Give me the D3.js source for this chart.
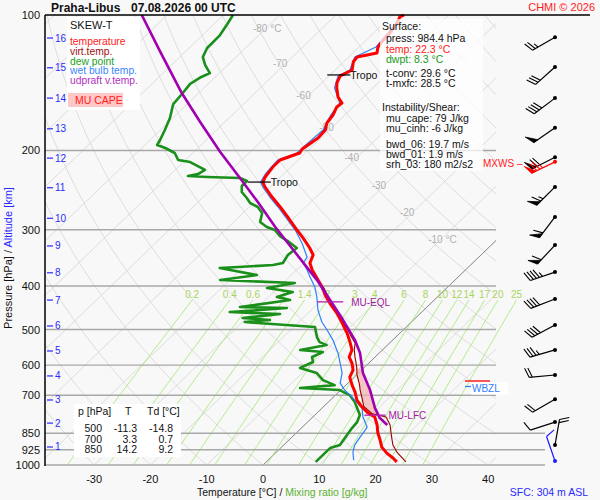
<!DOCTYPE html>
<html>
<head>
<meta charset="utf-8">
<script src="https://cdn.jsdelivr.net/npm/d3@7"></script>
<style>
  body { margin: 0; background: #f8f8f8; }
  svg { display: block; font-family: "Liberation Sans", Arial, sans-serif; }
</style>
</head>
<body>
<svg id="chart" width="600" height="500"></svg>
<script>
// ---- sounding: [pressure hPa, temperature °C] ----
const tempProfile = [[100,-57.9],[101,-58.3],[104,-57.7],[110,-57.1],[115,-56.9],[118,-56.6],[121.5,-55.7],[124,-58.5],[127,-58.3],[132.5,-57.0],[136.6,-58.0],[141.6,-57.3],[145.3,-56.4],[152.2,-54.5],[156.9,-52.7],[160.1,-52.9],[166.8,-52.1],[173.8,-51.7],[180.1,-50.7],[187.7,-50.5],[194.5,-51.0],[198.5,-51.3],[202.6,-51.0],[210,-53.2],[217.7,-53.2],[224.5,-52.9],[229.1,-52.7],[235.1,-52.2],[241.1,-50.9],[253.8,-47.8],[267.1,-44.5],[281.2,-41.3],[300.5,-37.3],[313.1,-34.7],[329.5,-31.7],[341.5,-29.8],[355.8,-28.9],[368.8,-27.2],[384.2,-24.9],[402.3,-22.3],[419.1,-20.3],[436.6,-18.0],[459.6,-14.9],[483.7,-12.1],[509,-9.4],[533.3,-7.2],[555.2,-5.4],[575.5,-4.6],[593.5,-3.0],[615.3,-1.5],[637.8,-0.8],[664.5,1.1],[688.5,2.9],[717.1,4.7],[743.4,6.9],[766.7,9.1],[782.2,11.0],[815,12.9],[849,14.5],[880.2,16.2],[912.5,17.8],[941.2,19.8],[965,21.8],[984.4,23.2]];

const virtTempProfile = [[402,-22.1],[437,-17.7],[460,-14.6],[484,-11.8],[501,-9.8],[522,-7.6],[536,-6.1],[555,-5.0],[575,-3.6],[606,-1.4],[631,0.1],[664,2.4],[681,3.4],[706,5.0],[741,7.1],[768,9.8],[782,13.0],[815,15.2],[867,17.7],[903,19.4],[936,21.4],[984,24.8]];

const dewProfile = [[100,-88.3],[104.2,-87.7],[110.8,-86.9],[118.4,-86.8],[124,-85.9],[129.2,-84.0],[134.6,-81.7],[137.3,-82.5],[142.3,-83.2],[149.8,-82.8],[157.7,-82.5],[169.4,-80.5],[180.1,-79.2],[189.6,-78.2],[194.5,-77.8],[197.5,-75.8],[202.6,-73.2],[210,-71.3],[212.2,-68.8],[216.6,-66.7],[221,-64.7],[225.6,-65.2],[228,-66.6],[229.1,-63.0],[230.3,-57.0],[233.9,-55.2],[239.9,-55.2],[247.4,-54.1],[255.1,-52.1],[261.7,-50.6],[267.1,-48.5],[275.5,-46.6],[288.5,-45.3],[295.9,-43.2],[300.5,-41.2],[309.9,-39.2],[317.9,-36.9],[329.5,-34.0],[341.5,-34.3],[355.8,-33.7],[359.4,-35.1],[365,-44.0],[378.4,-36.1],[388.2,-41.7],[394.1,-27.9],[404.4,-31.9],[412.7,-26.6],[423.4,-28.5],[430,-25.6],[445.7,-33.2],[448,-24.7],[457.2,-34.1],[461.9,-24.8],[471.5,-30.7],[476.3,-25.5],[481.2,-29.6],[493.7,-16.2],[519.7,-14.0],[533.3,-12.6],[541.4,-10.8],[555.2,-14.6],[561.1,-10.2],[575.5,-11.2],[590.5,-10.1],[608.9,-11.3],[624.7,-7.4],[647.6,-5.0],[664.5,-2.0],[674.6,-7.6],[681.5,-0.2],[699.2,2.5],[724.7,4.7],[774.6,8.0],[802.8,8.8],[827.8,9.0],[858,9.4],[903.1,10.0],[917.1,8.8],[941.2,8.8],[984.4,8.8]];

const wetBulbProfile = [[100,-58.3],[109.6,-57.5],[117.8,-57.0],[124,-58.9],[132.5,-57.4],[136.6,-58.4],[145.3,-56.8],[156.9,-53.1],[166.8,-52.5],[180.1,-51.1],[194.5,-51.4],[202.6,-51.5],[210,-53.6],[224.5,-53.3],[235.1,-52.6],[241.1,-51.3],[253.8,-48.2],[267.1,-44.9],[281.2,-41.7],[300.5,-37.6],[321.2,-34.0],[345.1,-30.5],[355.8,-30.1],[368.8,-28.1],[382.2,-26.3],[402.3,-23.6],[423.4,-21.4],[452.6,-18.8],[481.2,-15.9],[501.3,-13.5],[527.7,-10.6],[555.2,-8.1],[564,-7.3],[593.5,-5.1],[624.7,-2.9],[657.6,-1.4],[681.5,0.7],[706.4,3.3],[728.4,5.4],[747.3,7.1],[782.2,8.9],[823.6,11.5],[836.3,11.7],[866.9,12.1],[903.1,12.6],[936.1,13.6],[975.2,15.2]];

const parcelProfile = [[100,-104.5],[120.8,-94.4],[149.1,-83.0],[172.9,-74.4],[201.6,-65.3],[230.3,-57.0],[260.4,-49.4],[295.9,-41.7],[336.3,-33.6],[388.2,-24.5],[430,-18.5],[476.3,-12.5],[527.7,-6.7],[564,-3.4],[624.7,0.8],[681.5,5.2],[747.3,9.4],[786.5,12.1],[815,14.7]];

const tropoP = [135.9, 235.1];
const eqlP = 434, lfcP = 775;
const capeTop = 610, capeBottom = 775;

// ---- axes ----
const pressureTicks = [100,200,300,400,500,600,700,850,925,1000];
const tempTicks = [-30,-20,-10,0,10,20,30,40];
const mixRatios = [0.2,0.4,0.6,1,1.4,2,3,4,6,8,10,12,14,17,20,25];
const isoLabelT = [-80,-70,-60,-50,-40,-30,-20,-10];
const isoLabelP = [107,128,150.6,177.4,206.8,238.7,274.1,314.7];
const altKm = [1,2,3,4,5,6,7,8,9,10,11,12,13,14,15,16];
const altP = [912,807,717,634,558,491,430,374,326,283,242,208,179,153,131,112.5];

// ---- winds ----
const windP = [112,130.5,153,178,207,241,281,324.5,372.6,427.8,488.7,555,631,714,803,903];
const windDir = [240,228,233,235,243,225,217,223,251,249,242,254,265,240,252,10];
const windSpd = [25,30,40,50,70,65,60,60,45,40,40,35,20,20,10,20];
const sfcWind = [980,341,10];
const maxWind = [212,244,75];

// ---- texts ----
const legendItems = [['temperature','#ff2020'],['virt.temp.','#a01010'],['dew point','#20a020'],['wet bulb temp.','#3a86ff'],['udpraft v.temp.','#b030c0']];
const infoText = [['Surface:','#111',0],['press: 984.4 hPa','#111',1],['temp: 22.3 °C','#ff2020',1],['dwpt: 8.3 °C','#1a9a1a',1],['t-conv: 29.6 °C','#111',1],['t-mxfc: 28.5 °C','#111',1],['Instability/Shear:','#111',0],['mu_cape: 79 J/kg','#111',1],['mu_cinh: -6 J/kg','#111',1],['bwd_06: 19.7 m/s','#111',1],['bwd_01: 1.9 m/s','#111',1],['srh_03: 180 m2/s2','#111',1]];
const tableP = ['500','700','850'];
const tableT = ['-11.3','3.3','14.2'];
const tableTd = ['-14.8','0.7','9.2'];

// ================= drawing =================
const svg = d3.select('#chart');
const plot = {left: 45, right: 496, top: 15, bottom: 465};
const skew = 1.038;
const yScale = d3.scaleLog().domain([100, 1000]).range([plot.top, plot.bottom]);
const tScale = d3.scaleLinear().domain([-30, 40]).range([94.1, 488.2]);
const xOf = (t, p) => tScale(t) + (plot.bottom - yScale(p)) * skew;
const line = d3.line().x(d => xOf(d[1], d[0])).y(d => yScale(d[0]));

svg.append('rect').attr('width', 600).attr('height', 500).attr('fill', '#f8f8f8');

const defs = svg.append('defs');
defs.append('clipPath').attr('id', 'plotClip')
  .append('rect').attr('x', plot.left).attr('y', plot.top)
  .attr('width', plot.right - plot.left).attr('height', plot.bottom - plot.top);

const grid = svg.append('g').attr('clip-path', 'url(#plotClip)');
const levels = d3.range(100, 1001, 10);

// isotherms
d3.range(-130, 50, 10).forEach(t => {
  grid.append('path').attr('d', line([[100, t], [1000, t]]))
    .attr('fill', 'none').attr('stroke', '#d6d6d6').attr('stroke-width', 0.8);
});
// dry adiabats
d3.range(-50, 190, 10).forEach(th => {
  const pts = levels.map(p => [p, (th + 273.15) * Math.pow(p / 1000, 0.2857) - 273.15]);
  grid.append('path').attr('d', line(pts))
    .attr('fill', 'none').attr('stroke', '#d6d6d6').attr('stroke-width', 0.8);
});

// mixing ratio lines
const dewFromMix = (w, p) => { const l = Math.log(w * p / (622 + w) / 6.112); return 243.5 * l / (17.67 - l); };
mixRatios.forEach(w => {
  const pts = d3.range(430, 1001, 10).map(p => [p, dewFromMix(w, p)]);
  svg.append('path').attr('d', line(pts))
    .attr('fill', 'none').attr('stroke', '#9ee870').attr('stroke-width', 0.8);
  svg.append('text').attr('x', xOf(dewFromMix(w, 430), 430)).attr('y', yScale(430) - 2)
    .attr('text-anchor', 'middle').attr('font-size', 10).attr('fill', '#a8d45c').text(w);
});

// pressure lines
pressureTicks.slice(1).forEach(p => {
  svg.append('line').attr('x1', plot.left).attr('x2', p >= 850 ? 545 : plot.right)
    .attr('y1', yScale(p)).attr('y2', yScale(p))
    .attr('stroke', '#a8a8a8').attr('stroke-width', 1.4);
});
// freezing isotherm
grid.append('path').attr('d', line([[100, 0], [1000, 0]]))
  .attr('fill', 'none').attr('stroke', '#666').attr('stroke-width', 0.7);

// isotherm labels
isoLabelT.forEach((t, i) => {
  const p = isoLabelP[i];
  svg.append('text').attr('x', xOf(t, p) - 13).attr('y', yScale(p) + 4)
    .attr('font-size', 10).attr('fill', '#b0b0b0')
    .text(t === -80 || t === -10 ? t + ' °C' : t);
});

// CAPE area between parcel and virtual temperature
const interp = (prof, p) => {
  for (let i = 0; i < prof.length - 1; i++) {
    const a = prof[i], b = prof[i + 1];
    if (p >= a[0] && p <= b[0]) {
      const f = (Math.log(p) - Math.log(a[0])) / (Math.log(b[0]) - Math.log(a[0]));
      return a[1] + f * (b[1] - a[1]);
    }
  }
  return prof[prof.length - 1][1];
};
const capeP = d3.range(capeTop, capeBottom + 1, 5);
const capePoly = capeP.map(p => [xOf(interp(parcelProfile, p), p), yScale(p)])
  .concat(capeP.slice().reverse().map(p => [xOf(interp(virtTempProfile, p), p), yScale(p)]));
svg.append('polygon').attr('points', capePoly.map(d => d.join(',')).join(' '))
  .attr('fill', '#f4b4b4').attr('fill-opacity', 0.75);

// profiles
const drawProfile = (data, color, w) => svg.append('path').attr('d', line(data))
  .attr('fill', 'none').attr('stroke', color).attr('stroke-width', w)
  .attr('stroke-linejoin', 'round');
drawProfile(dewProfile, '#1a8f1a', 2.6);
drawProfile(wetBulbProfile, '#2f7fff', 1.2);
drawProfile(tempProfile, '#ff0000', 3);
drawProfile(virtTempProfile, '#990000', 1.1);
drawProfile(parcelProfile, '#a000b0', 2.6);

// tropopause marks
tropoP.forEach(p => {
  const xt = xOf(interp(tempProfile, p), p), y = yScale(p);
  svg.append('line').attr('x1', xt - 15).attr('x2', xt + 8).attr('y1', y).attr('y2', y)
    .attr('stroke', '#000').attr('stroke-width', 1.2);
  svg.append('text').attr('x', xt + 8).attr('y', y + 4).attr('font-size', 10.5).attr('fill', '#111').text('Tropo');
});

// EQL / LFC marks
[[eqlP, 'MU-EQL', 14, 12, 20], [lfcP, 'MU-LFC', 14, 7, 10]].forEach(([p, label, l, r, off]) => {
  const xp = xOf(interp(parcelProfile, p), p), y = yScale(p);
  svg.append('line').attr('x1', xp - l).attr('x2', xp + r).attr('y1', y).attr('y2', y)
    .attr('stroke', '#b020b0').attr('stroke-width', 1.3);
  svg.append('text').attr('x', xp + off).attr('y', y + 4).attr('font-size', 10)
    .attr('fill', '#a020a0').text(label);
});

// WBZL mark
svg.append('line').attr('x1', 465).attr('x2', 490).attr('y1', 381).attr('y2', 381).attr('stroke', '#ff2020').attr('stroke-width', 1.5);
svg.append('rect').attr('x', 471).attr('y', 382.5).attr('width', 37).attr('height', 12).attr('fill', '#fff');
svg.append('line').attr('x1', 465).attr('x2', 471).attr('y1', 386.5).attr('y2', 386.5).attr('stroke', '#2f7fff').attr('stroke-width', 1.3);
svg.append('text').attr('x', 472).attr('y', 392).attr('font-size', 10).attr('fill', '#2f7fff').text('WBZL');

// legend box
svg.append('rect').attr('x', 67).attr('y', 17).attr('width', 73).attr('height', 93).attr('fill', '#fff');
svg.append('text').attr('x', 70).attr('y', 29).attr('font-size', 11).attr('fill', '#111').text('SKEW-T');
legendItems.forEach(([t, c], i) => {
  svg.append('text').attr('x', 70).attr('y', 45 + i * 9.8).attr('font-size', 10.3).attr('fill', c).text(t);
});
svg.append('rect').attr('x', 68).attr('y', 93).attr('width', 55).attr('height', 14).attr('fill', '#ffc8c8');
svg.append('text').attr('x', 75).attr('y', 104).attr('font-size', 10.5).attr('fill', '#ff2020').text('MU CAPE');

// info box
svg.append('rect').attr('x', 380).attr('y', 19).attr('width', 103).attr('height', 152)
  .attr('fill', '#fff').attr('fill-opacity', 0.75);
const infoY = [30, 42, 53, 63, 77, 87, 111, 122, 132, 148, 158, 168];
infoText.forEach(([t, c, ind], i) => {
  svg.append('text').attr('x', ind ? 386 : 382).attr('y', infoY[i])
    .attr('font-size', 10.5).attr('fill', c).text(t);
});

// table box
svg.append('rect').attr('x', 74).attr('y', 404).attr('width', 107).attr('height', 53).attr('fill', '#fff');
const tbl = svg.append('g').attr('font-size', 10.5).attr('fill', '#111');
tbl.append('text').attr('x', 78).attr('y', 415).text('p [hPa]');
tbl.append('text').attr('x', 125).attr('y', 415).text('T');
tbl.append('text').attr('x', 147).attr('y', 415).text('Td [°C]');
tableP.forEach((p, i) => {
  const y = 432 + i * 10.5;
  tbl.append('text').attr('x', 102).attr('y', y).attr('text-anchor', 'end').text(p);
  tbl.append('text').attr('x', 137).attr('y', y).attr('text-anchor', 'end').text(tableT[i]);
  tbl.append('text').attr('x', 173).attr('y', y).attr('text-anchor', 'end').text(tableTd[i]);
});

// axes
svg.append('line').attr('x1', plot.left).attr('x2', 590).attr('y1', plot.top).attr('y2', plot.top)
  .attr('stroke', '#000').attr('stroke-width', 1.5);
svg.append('line').attr('x1', plot.left).attr('x2', plot.left).attr('y1', plot.top).attr('y2', plot.bottom + 1)
  .attr('stroke', '#000').attr('stroke-width', 1.5);
pressureTicks.forEach(p => {
  svg.append('text').attr('x', 40).attr('y', yScale(p) + 4).attr('text-anchor', 'end')
    .attr('font-size', 11).attr('fill', '#111').text(p);
});
tempTicks.forEach(t => {
  svg.append('text').attr('x', tScale(t)).attr('y', 483).attr('text-anchor', 'middle')
    .attr('font-size', 11).attr('fill', '#111').text(t);
});
altKm.forEach((k, i) => {
  const y = yScale(altP[i]);
  svg.append('line').attr('x1', 47).attr('x2', 53).attr('y1', y).attr('y2', y)
    .attr('stroke', '#2a2aff').attr('stroke-width', 1.2);
  svg.append('text').attr('x', 55).attr('y', y + 3.5).attr('font-size', 10)
    .attr('fill', '#2a2aff').text(k);
});

const yTitle = svg.append('text').attr('transform', 'translate(12,258) rotate(-90)')
  .attr('text-anchor', 'middle').attr('font-size', 11);
yTitle.append('tspan').attr('fill', '#111').text('Pressure [hPa]  /  ');
yTitle.append('tspan').attr('fill', '#2a2aff').text('Altitude [km]');

const xTitle = svg.append('text').attr('x', 197).attr('y', 496).attr('font-size', 10.5);
xTitle.append('tspan').attr('fill', '#111').text('Temperature [°C]  /  ');
xTitle.append('tspan').attr('fill', '#5cb030').text('Mixing ratio [g/kg]');

svg.append('text').attr('x', 588).attr('y', 496).attr('text-anchor', 'end')
  .attr('font-size', 10.5).attr('fill', '#2a2aff').text('SFC: 304 m ASL');

// title
svg.append('text').attr('x', 51).attr('y', 12).attr('font-size', 12).attr('font-weight', 'bold')
  .attr('fill', '#111').text('Praha-Libus');
svg.append('text').attr('x', 131).attr('y', 12).attr('font-size', 12).attr('font-weight', 'bold')
  .attr('fill', '#111').text('07.08.2026 00 UTC');
svg.append('text').attr('x', 595).attr('y', 11).attr('text-anchor', 'end')
  .attr('font-size', 11).attr('fill', '#ff2020').text('CHMI © 2026');

// wind barbs
const barbX = 555;
function barb(p, dir, spd, color) {
  const g = svg.append('g').attr('stroke', color).attr('fill', color);
  const y = yScale(p), a = dir * Math.PI / 180;
  const ux = Math.sin(a), uy = -Math.cos(a);
  const bx = -uy, by = ux;
  const L = 26, len = 10, gap = 3.2;
  const ex = barbX + ux * L, ey = y + uy * L;
  g.append('line').attr('x1', barbX).attr('y1', y).attr('x2', ex).attr('y2', ey).attr('stroke-width', 1.2);
  const vx = bx * 0.93 + ux * 0.37, vy = by * 0.93 + uy * 0.37;
  let s = spd, pos = 0;
  const pen = Math.floor(s / 50); s -= pen * 50;
  const full = Math.floor(s / 10); s -= full * 10;
  for (let i = 0; i < pen; i++) {
    const px = ex - ux * pos, py = ey - uy * pos;
    g.append('polygon').attr('points', [[px, py], [px + vx * len, py + vy * len], [px - ux * 5, py - uy * 5]].map(d => d.join(',')).join(' '))
      .attr('stroke-width', 0.8);
    pos += 6;
  }
  for (let i = 0; i < full; i++) {
    const px = ex - ux * pos, py = ey - uy * pos;
    g.append('line').attr('x1', px).attr('y1', py).attr('x2', px + vx * len).attr('y2', py + vy * len).attr('stroke-width', 1.1);
    pos += gap;
  }
  if (s >= 5) {
    if (pos === 0) pos = gap;
    const px = ex - ux * pos, py = ey - uy * pos;
    g.append('line').attr('x1', px).attr('y1', py).attr('x2', px + vx * len / 2).attr('y2', py + vy * len / 2).attr('stroke-width', 1.1);
  }
  g.append('circle').attr('cx', barbX).attr('cy', y).attr('r', 2).attr('stroke', 'none');
}
windP.forEach((p, i) => barb(p, windDir[i], windSpd[i], '#000'));
barb(maxWind[0], maxWind[1], maxWind[2], '#ff0000');
barb(sfcWind[0], sfcWind[1], sfcWind[2], '#1a1aff');
svg.append('text').attr('x', 483).attr('y', 167).attr('font-size', 10).attr('fill', '#ff2020').text('MXWS –');
</script>
</body>
</html>
